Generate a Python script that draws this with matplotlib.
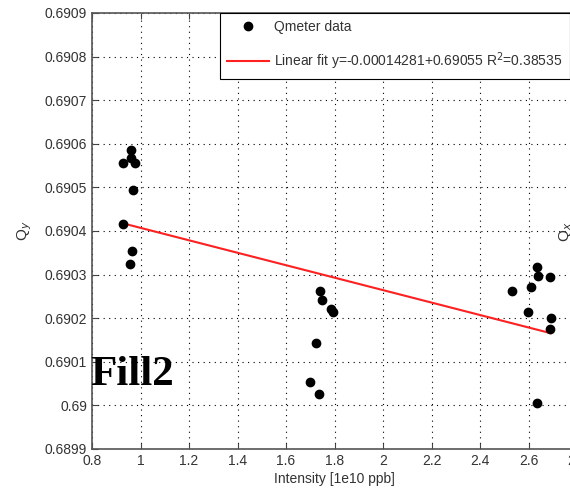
import matplotlib
matplotlib.use("Agg")
import matplotlib.pyplot as plt
import numpy as np

# Data
intensity = [0.929, 0.962, 0.960, 0.977, 0.970, 0.929, 0.966, 0.957,
             1.740, 1.750, 1.786, 1.793, 1.724, 1.699, 1.737,
             2.636, 2.641, 2.689, 2.531, 2.609, 2.599, 2.691, 2.689, 2.636]
qy = [0.690555, 0.690586, 0.690567, 0.690555, 0.690494, 0.690415, 0.690354, 0.690324,
      0.690263, 0.690242, 0.690221, 0.690214, 0.690144, 0.690053, 0.690025,
      0.690317, 0.690297, 0.690295, 0.690263, 0.690271, 0.690215, 0.690201, 0.690175, 0.690005]
fit_slope = -0.00014281
fit_intercept = 0.69055
fit_r2 = 0.38535

xticks = [0.8, 1.0, 1.2, 1.4, 1.6, 1.8, 2.0, 2.2, 2.4, 2.6, 2.8]
yticks = [0.6899, 0.6900, 0.6901, 0.6902, 0.6903, 0.6904, 0.6905, 0.6906, 0.6907, 0.6908, 0.6909]

plt.rcParams['font.family'] = ['Liberation Sans', 'DejaVu Sans']

fig = plt.figure(figsize=(5.70, 4.93), dpi=100)
W, H = 570.0, 493.0
ax = fig.add_axes([92 / W, 1 - 449 / H, (577 - 92) / W, 436 / H])

ax.plot(intensity, qy, 'o', color='black', ms=6, label='Qmeter data', zorder=3)
xf = np.array([min(intensity), max(intensity)])
ax.plot(xf, fit_slope * xf + fit_intercept, '-', color='#ff2020', lw=1.5,
        label='Linear fit y=%g+%g R$^2$=%g' % (fit_slope, fit_intercept, fit_r2), zorder=2)

ax.set_xlim(0.8, 2.8)
ax.set_ylim(0.6899, 0.6909)
ax.set_xticks(xticks)
ax.set_yticks(yticks)
ax.set_xticklabels(['%g' % v for v in xticks])
ax.set_yticklabels(['%g' % round(v, 4) for v in yticks])
ax.tick_params(direction='in', top=True, right=True, length=4, labelsize=10,
               colors='#444444', labelcolor='#333333')
for s in ax.spines.values():
    s.set_color('#555555')
    s.set_linewidth(1.2)
ax.grid(True, color='black', linestyle=(0, (1, 4)), linewidth=0.8)

ax.set_xlabel('Intensity [1e10 ppb]', fontsize=10, color='#333333', labelpad=3)
ax.set_ylabel('Q$_y$', fontsize=11, color='#333333', labelpad=8)

leg = ax.legend(loc='upper left', bbox_to_anchor=((220 - 92) / 485.0, 1.0), fontsize=10,
                frameon=True, fancybox=False, edgecolor='black', framealpha=1,
                labelspacing=1.2, handlelength=3.0, handletextpad=0.4,
                borderpad=0.5, borderaxespad=0)
leg.get_frame().set_linewidth(0.8)
for t in leg.get_texts():
    t.set_color('#333333')

fig.text(90 / W, 1 - 385 / H, 'Fill2', family='Liberation Serif', weight='bold',
         fontsize=31, color='black', ha='left', va='baseline')
fig.text(557 / W, 1 - 232 / H, 'Q$_x$', rotation=90, fontsize=11, color='#333333',
         ha='left', va='center')

fig.savefig('out.png', dpi=100)
